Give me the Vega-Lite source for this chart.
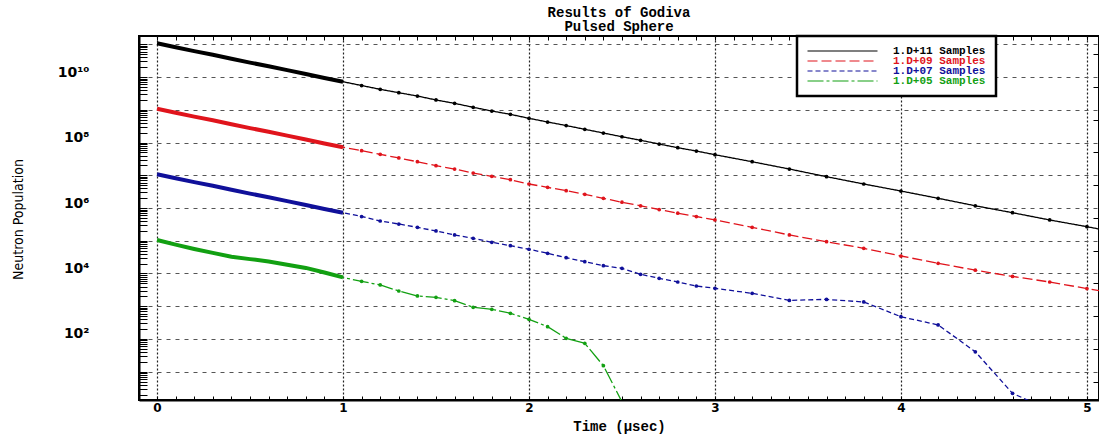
{
  "$schema": "https://vega.github.io/schema/vega-lite/v6.json",
  "width": 960,
  "height": 364,
  "autosize": "none",
  "padding": {"left": 139, "top": 36, "right": 0, "bottom": 36},
  "background": "white",
  "config": {"view": {"stroke": "black", "strokeWidth": 2}},
  "title": {
    "text": ["Results of Godiva", "Pulsed Sphere"],
    "font": "Liberation Mono",
    "fontWeight": "bold",
    "fontSize": 14,
    "lineHeight": 14,
    "anchor": "middle",
    "offset": -2,
    "color": "black"
  },
  "data": {
    "values": [
      {"series": "1.D+11 Samples", "t": 0, "n": 1.07e11},
      {"series": "1.D+11 Samples", "t": 0.1, "n": 8.13e10},
      {"series": "1.D+11 Samples", "t": 0.2, "n": 6.17e10},
      {"series": "1.D+11 Samples", "t": 0.3, "n": 4.79e10},
      {"series": "1.D+11 Samples", "t": 0.4, "n": 3.63e10},
      {"series": "1.D+11 Samples", "t": 0.5, "n": 2.75e10},
      {"series": "1.D+11 Samples", "t": 0.6, "n": 2.14e10},
      {"series": "1.D+11 Samples", "t": 0.7, "n": 1.62e10},
      {"series": "1.D+11 Samples", "t": 0.8, "n": 1.23e10},
      {"series": "1.D+11 Samples", "t": 0.9, "n": 9.33e9},
      {"series": "1.D+11 Samples", "t": 1.0, "n": 7.18e9},
      {"series": "1.D+11 Samples", "t": 1.1, "n": 5.50e9},
      {"series": "1.D+11 Samples", "t": 1.2, "n": 4.21e9},
      {"series": "1.D+11 Samples", "t": 1.3, "n": 3.32e9},
      {"series": "1.D+11 Samples", "t": 1.4, "n": 2.63e9},
      {"series": "1.D+11 Samples", "t": 1.5, "n": 1.99e9},
      {"series": "1.D+11 Samples", "t": 1.6, "n": 1.57e9},
      {"series": "1.D+11 Samples", "t": 1.7, "n": 1.19e9},
      {"series": "1.D+11 Samples", "t": 1.8, "n": 9.16e8},
      {"series": "1.D+11 Samples", "t": 1.9, "n": 7.26e8},
      {"series": "1.D+11 Samples", "t": 2.0, "n": 5.48e8},
      {"series": "1.D+11 Samples", "t": 2.1, "n": 4.23e8},
      {"series": "1.D+11 Samples", "t": 2.2, "n": 3.30e8},
      {"series": "1.D+11 Samples", "t": 2.3, "n": 2.53e8},
      {"series": "1.D+11 Samples", "t": 2.4, "n": 1.95e8},
      {"series": "1.D+11 Samples", "t": 2.5, "n": 1.50e8},
      {"series": "1.D+11 Samples", "t": 2.6, "n": 1.17e8},
      {"series": "1.D+11 Samples", "t": 2.7, "n": 9.00e7},
      {"series": "1.D+11 Samples", "t": 2.8, "n": 6.93e7},
      {"series": "1.D+11 Samples", "t": 2.9, "n": 5.50e7},
      {"series": "1.D+11 Samples", "t": 3.0, "n": 4.24e7},
      {"series": "1.D+11 Samples", "t": 3.2, "n": 2.59e7},
      {"series": "1.D+11 Samples", "t": 3.4, "n": 1.55e7},
      {"series": "1.D+11 Samples", "t": 3.6, "n": 9.04e6},
      {"series": "1.D+11 Samples", "t": 3.8, "n": 5.41e6},
      {"series": "1.D+11 Samples", "t": 4.0, "n": 3.30e6},
      {"series": "1.D+11 Samples", "t": 4.2, "n": 1.98e6},
      {"series": "1.D+11 Samples", "t": 4.4, "n": 1.17e6},
      {"series": "1.D+11 Samples", "t": 4.6, "n": 7.19e5},
      {"series": "1.D+11 Samples", "t": 4.8, "n": 4.31e5},
      {"series": "1.D+11 Samples", "t": 5.0, "n": 2.69e5},
      {"series": "1.D+11 Samples", "t": 5.2, "n": 1.62e5},

      {"series": "1.D+09 Samples", "t": 0, "n": 1.07e9},
      {"series": "1.D+09 Samples", "t": 0.1, "n": 8.13e8},
      {"series": "1.D+09 Samples", "t": 0.2, "n": 6.17e8},
      {"series": "1.D+09 Samples", "t": 0.3, "n": 4.79e8},
      {"series": "1.D+09 Samples", "t": 0.4, "n": 3.63e8},
      {"series": "1.D+09 Samples", "t": 0.5, "n": 2.75e8},
      {"series": "1.D+09 Samples", "t": 0.6, "n": 2.14e8},
      {"series": "1.D+09 Samples", "t": 0.7, "n": 1.62e8},
      {"series": "1.D+09 Samples", "t": 0.8, "n": 1.23e8},
      {"series": "1.D+09 Samples", "t": 0.9, "n": 9.33e7},
      {"series": "1.D+09 Samples", "t": 1.0, "n": 7.18e7},
      {"series": "1.D+09 Samples", "t": 1.1, "n": 5.62e7},
      {"series": "1.D+09 Samples", "t": 1.2, "n": 4.37e7},
      {"series": "1.D+09 Samples", "t": 1.3, "n": 3.37e7},
      {"series": "1.D+09 Samples", "t": 1.4, "n": 2.59e7},
      {"series": "1.D+09 Samples", "t": 1.5, "n": 1.96e7},
      {"series": "1.D+09 Samples", "t": 1.6, "n": 1.55e7},
      {"series": "1.D+09 Samples", "t": 1.7, "n": 1.17e7},
      {"series": "1.D+09 Samples", "t": 1.8, "n": 9.27e6},
      {"series": "1.D+09 Samples", "t": 1.9, "n": 7.31e6},
      {"series": "1.D+09 Samples", "t": 2.0, "n": 5.41e6},
      {"series": "1.D+09 Samples", "t": 2.1, "n": 4.27e6},
      {"series": "1.D+09 Samples", "t": 2.2, "n": 3.39e6},
      {"series": "1.D+09 Samples", "t": 2.3, "n": 2.62e6},
      {"series": "1.D+09 Samples", "t": 2.4, "n": 1.98e6},
      {"series": "1.D+09 Samples", "t": 2.5, "n": 1.50e6},
      {"series": "1.D+09 Samples", "t": 2.6, "n": 1.17e6},
      {"series": "1.D+09 Samples", "t": 2.7, "n": 9.00e5},
      {"series": "1.D+09 Samples", "t": 2.8, "n": 6.93e5},
      {"series": "1.D+09 Samples", "t": 2.9, "n": 5.50e5},
      {"series": "1.D+09 Samples", "t": 3.0, "n": 4.31e5},
      {"series": "1.D+09 Samples", "t": 3.2, "n": 2.58e5},
      {"series": "1.D+09 Samples", "t": 3.4, "n": 1.50e5},
      {"series": "1.D+09 Samples", "t": 3.6, "n": 9.33e4},
      {"series": "1.D+09 Samples", "t": 3.8, "n": 5.89e4},
      {"series": "1.D+09 Samples", "t": 4.0, "n": 3.42e4},
      {"series": "1.D+09 Samples", "t": 4.2, "n": 2.05e4},
      {"series": "1.D+09 Samples", "t": 4.4, "n": 1.26e4},
      {"series": "1.D+09 Samples", "t": 4.6, "n": 8.13e3},
      {"series": "1.D+09 Samples", "t": 4.8, "n": 5.50e3},
      {"series": "1.D+09 Samples", "t": 5.0, "n": 3.47e3},
      {"series": "1.D+09 Samples", "t": 5.2, "n": 2.19e3},

      {"series": "1.D+07 Samples", "t": 0, "n": 1.07e7},
      {"series": "1.D+07 Samples", "t": 0.1, "n": 8.13e6},
      {"series": "1.D+07 Samples", "t": 0.2, "n": 6.17e6},
      {"series": "1.D+07 Samples", "t": 0.3, "n": 4.79e6},
      {"series": "1.D+07 Samples", "t": 0.4, "n": 3.63e6},
      {"series": "1.D+07 Samples", "t": 0.5, "n": 2.75e6},
      {"series": "1.D+07 Samples", "t": 0.6, "n": 2.14e6},
      {"series": "1.D+07 Samples", "t": 0.7, "n": 1.62e6},
      {"series": "1.D+07 Samples", "t": 0.8, "n": 1.23e6},
      {"series": "1.D+07 Samples", "t": 0.9, "n": 9.33e5},
      {"series": "1.D+07 Samples", "t": 1.0, "n": 7.18e5},
      {"series": "1.D+07 Samples", "t": 1.1, "n": 5.50e5},
      {"series": "1.D+07 Samples", "t": 1.2, "n": 4.01e5},
      {"series": "1.D+07 Samples", "t": 1.3, "n": 3.24e5},
      {"series": "1.D+07 Samples", "t": 1.4, "n": 2.57e5},
      {"series": "1.D+07 Samples", "t": 1.5, "n": 1.99e5},
      {"series": "1.D+07 Samples", "t": 1.6, "n": 1.50e5},
      {"series": "1.D+07 Samples", "t": 1.7, "n": 1.19e5},
      {"series": "1.D+07 Samples", "t": 1.8, "n": 8.97e4},
      {"series": "1.D+07 Samples", "t": 1.9, "n": 7.08e4},
      {"series": "1.D+07 Samples", "t": 2.0, "n": 5.50e4},
      {"series": "1.D+07 Samples", "t": 2.1, "n": 4.14e4},
      {"series": "1.D+07 Samples", "t": 2.2, "n": 3.03e4},
      {"series": "1.D+07 Samples", "t": 2.3, "n": 2.29e4},
      {"series": "1.D+07 Samples", "t": 2.4, "n": 1.73e4},
      {"series": "1.D+07 Samples", "t": 2.5, "n": 1.44e4},
      {"series": "1.D+07 Samples", "t": 2.6, "n": 9.44e3},
      {"series": "1.D+07 Samples", "t": 2.7, "n": 7.13e3},
      {"series": "1.D+07 Samples", "t": 2.8, "n": 5.50e3},
      {"series": "1.D+07 Samples", "t": 2.9, "n": 4.15e3},
      {"series": "1.D+07 Samples", "t": 3.0, "n": 3.53e3},
      {"series": "1.D+07 Samples", "t": 3.2, "n": 2.48e3},
      {"series": "1.D+07 Samples", "t": 3.4, "n": 1.51e3},
      {"series": "1.D+07 Samples", "t": 3.6, "n": 1.62e3},
      {"series": "1.D+07 Samples", "t": 3.8, "n": 1.35e3},
      {"series": "1.D+07 Samples", "t": 4.0, "n": 479},
      {"series": "1.D+07 Samples", "t": 4.2, "n": 269},
      {"series": "1.D+07 Samples", "t": 4.4, "n": 40.7},
      {"series": "1.D+07 Samples", "t": 4.6, "n": 2.19},
      {"series": "1.D+07 Samples", "t": 4.8, "n": 0.68},

      {"series": "1.D+05 Samples", "t": 0, "n": 1.05e5},
      {"series": "1.D+05 Samples", "t": 0.1, "n": 7.59e4},
      {"series": "1.D+05 Samples", "t": 0.2, "n": 5.62e4},
      {"series": "1.D+05 Samples", "t": 0.3, "n": 4.27e4},
      {"series": "1.D+05 Samples", "t": 0.4, "n": 3.24e4},
      {"series": "1.D+05 Samples", "t": 0.5, "n": 2.75e4},
      {"series": "1.D+05 Samples", "t": 0.6, "n": 2.34e4},
      {"series": "1.D+05 Samples", "t": 0.7, "n": 1.86e4},
      {"series": "1.D+05 Samples", "t": 0.8, "n": 1.48e4},
      {"series": "1.D+05 Samples", "t": 0.9, "n": 1.07e4},
      {"series": "1.D+05 Samples", "t": 1.0, "n": 7.59e3},
      {"series": "1.D+05 Samples", "t": 1.1, "n": 5.75e3},
      {"series": "1.D+05 Samples", "t": 1.2, "n": 4.46e3},
      {"series": "1.D+05 Samples", "t": 1.3, "n": 2.92e3},
      {"series": "1.D+05 Samples", "t": 1.4, "n": 2.06e3},
      {"series": "1.D+05 Samples", "t": 1.5, "n": 1.87e3},
      {"series": "1.D+05 Samples", "t": 1.6, "n": 1.48e3},
      {"series": "1.D+05 Samples", "t": 1.7, "n": 931},
      {"series": "1.D+05 Samples", "t": 1.8, "n": 807},
      {"series": "1.D+05 Samples", "t": 1.9, "n": 610},
      {"series": "1.D+05 Samples", "t": 2.0, "n": 400},
      {"series": "1.D+05 Samples", "t": 2.1, "n": 238},
      {"series": "1.D+05 Samples", "t": 2.2, "n": 105},
      {"series": "1.D+05 Samples", "t": 2.3, "n": 73.8},
      {"series": "1.D+05 Samples", "t": 2.4, "n": 15.3},
      {"series": "1.D+05 Samples", "t": 2.5, "n": 1.2}
    ]
  },
  "layer": [
    {
      "mark": {"type": "line", "strokeWidth": 1.3, "clip": true},
      "encoding": {
        "x": {
          "field": "t", "type": "quantitative",
          "scale": {"domain": [-0.097, 5.065], "nice": false, "zero": false},
          "axis": {
            "orient": "bottom",
            "values": [0,0.1,0.2,0.3,0.4,0.5,0.6,0.7,0.8,0.9,1,1.1,1.2,1.3,1.4,1.5,1.6,1.7,1.8,1.9,2,2.1,2.2,2.3,2.4,2.5,2.6,2.7,2.8,2.9,3,3.1,3.2,3.3,3.4,3.5,3.6,3.7,3.8,3.9,4,4.1,4.2,4.3,4.4,4.5,4.6,4.7,4.8,4.9,5],
            "labelExpr": "datum.value % 1 == 0 ? format(datum.value, 'd') : ''",
            "labelOverlap": false,
            "labelFlush": false,
            "tickSize": -4,
            "tickColor": "black",
            "domainColor": "black",
            "domainWidth": 2,
            "labelFont": "DejaVu Sans",
            "labelFontWeight": "bold",
            "labelFontSize": 12,
            "labelColor": "black",
            "labelPadding": 6,
            "grid": true,
            "gridOpacity": {"condition": {"test": "datum.value % 1 == 0", "value": 1}, "value": 0},
            "gridDash": [2, 2],
            "gridColor": "#222222",
            "gridWidth": 1.2,
            "title": "Time (μsec)",
            "titleFont": "Liberation Mono",
            "titleFontWeight": "bold",
            "titleFontSize": 14,
            "titleColor": "black",
            "titlePadding": 6
          }
        },
        "y": {
          "field": "n", "type": "quantitative",
          "scale": {"type": "log", "domain": [1.37, 1.79e11], "nice": false},
          "axis": {
            "orient": "left",
            "values": [2,3,4,5,6,7,8,9,1e1,2e1,3e1,4e1,5e1,6e1,7e1,8e1,9e1,1e2,2e2,3e2,4e2,5e2,6e2,7e2,8e2,9e2,1e3,2e3,3e3,4e3,5e3,6e3,7e3,8e3,9e3,1e4,2e4,3e4,4e4,5e4,6e4,7e4,8e4,9e4,1e5,2e5,3e5,4e5,5e5,6e5,7e5,8e5,9e5,1e6,2e6,3e6,4e6,5e6,6e6,7e6,8e6,9e6,1e7,2e7,3e7,4e7,5e7,6e7,7e7,8e7,9e7,1e8,2e8,3e8,4e8,5e8,6e8,7e8,8e8,9e8,1e9,2e9,3e9,4e9,5e9,6e9,7e9,8e9,9e9,1e10,2e10,3e10,4e10,5e10,6e10,7e10,8e10,9e10,1e11],
            "labelExpr": "datum.value == 100 ? '10²' : datum.value == 10000 ? '10⁴' : datum.value == 1000000 ? '10⁶' : datum.value == 100000000 ? '10⁸' : datum.value == 10000000000 ? '10¹⁰' : ''",
            "labelOverlap": false,
            "tickSize": -8,
            "tickColor": "black",
            "domainColor": "black",
            "domainWidth": 2,
            "labelFont": "DejaVu Sans",
            "labelFontWeight": "bold",
            "labelFontSize": 14,
            "labelColor": "black",
            "labelPadding": 58,
            "labelOffset": -5,
            "grid": true,
            "gridOpacity": {"condition": {"test": "abs(log(datum.value)/LN10 - round(log(datum.value)/LN10)) < 0.001", "value": 1}, "value": 0},
            "gridDash": [4, 5],
            "gridColor": "#555555",
            "gridWidth": 1,
            "title": "Neutron Population",
            "titleFont": "Liberation Sans Narrow, DejaVu Sans Condensed, sans-serif",
            "titleFontWeight": "normal",
            "titleFontSize": 14,
            "titleColor": "black",
            "titleAngle": -90,
            "titleX": -121,
            "titleY": 183,
            "titleAlign": "center",
            "titleBaseline": "middle"
          }
        },
        "color": {
          "field": "series", "type": "nominal",
          "scale": {"domain": ["1.D+11 Samples", "1.D+09 Samples", "1.D+07 Samples", "1.D+05 Samples"], "range": ["#000000", "#e0141c", "#10109a", "#12a012"]},
          "legend": {
            "orient": "none",
            "legendX": 658,
            "legendY": 0,
            "title": null,
            "symbolType": "M-8.75,0H8.75",
            "symbolSize": 64,
            "symbolStrokeWidth": 1.2,
            "symbolOffset": 30,
            "labelOffset": 45,
            "labelFont": "Liberation Mono",
            "labelFontWeight": "bold",
            "labelFontSize": 11,
            "labelLimit": 400,
            "padding": 10,
            "rowPadding": -1,
            "clipHeight": 10,
            "strokeColor": "black",
            "fillColor": "white",
            "encode": {
              "legend": {"update": {"strokeWidth": {"value": 2.5}}},
              "labels": {"update": {"fill": {"scale": "color", "field": "value"}}}
            }
          }
        },
        "strokeDash": {
          "field": "series", "type": "nominal",
          "scale": {"domain": ["1.D+11 Samples", "1.D+09 Samples", "1.D+07 Samples", "1.D+05 Samples"], "range": [[1, 0], [10, 4], [5, 3], [16, 3, 3, 3]]},
          "legend": {
            "orient": "none",
            "legendX": 658,
            "legendY": 0,
            "title": null,
            "symbolType": "M-8.75,0H8.75",
            "symbolSize": 64,
            "symbolStrokeWidth": 1.2,
            "symbolOffset": 30,
            "labelOffset": 45,
            "labelFont": "Liberation Mono",
            "labelFontWeight": "bold",
            "labelFontSize": 11,
            "labelLimit": 400,
            "padding": 10,
            "rowPadding": -1,
            "clipHeight": 10,
            "strokeColor": "black",
            "fillColor": "white"
          }
        }
      }
    },
    {
      "transform": [{"filter": "datum.t <= 1.0001"}],
      "mark": {"type": "line", "strokeWidth": 4, "clip": true},
      "encoding": {
        "x": {
          "field": "t", "type": "quantitative",
          "scale": {"domain": [-0.097, 5.065], "nice": false, "zero": false},
          "axis": {
            "orient": "top",
            "values": [0,0.1,0.2,0.3,0.4,0.5,0.6,0.7,0.8,0.9,1,1.1,1.2,1.3,1.4,1.5,1.6,1.7,1.8,1.9,2,2.1,2.2,2.3,2.4,2.5,2.6,2.7,2.8,2.9,3,3.1,3.2,3.3,3.4,3.5,3.6,3.7,3.8,3.9,4,4.1,4.2,4.3,4.4,4.5,4.6,4.7,4.8,4.9,5],
            "labels": false,
            "tickSize": -4,
            "tickColor": "black",
            "domain": false,
            "grid": false,
            "title": null
          }
        },
        "y": {
          "field": "n", "type": "quantitative",
          "scale": {"type": "log", "domain": [1.37, 1.79e11], "nice": false},
          "axis": {
            "orient": "right",
            "values": [5,5e1,5e2,5e3,5e4,5e5,5e6,5e7,5e8,5e9,5e10],
            "labels": false,
            "tickSize": -6,
            "tickColor": "black",
            "domain": false,
            "grid": false,
            "title": null
          }
        },
        "color": {"field": "series", "type": "nominal", "scale": {"domain": ["1.D+11 Samples", "1.D+09 Samples", "1.D+07 Samples", "1.D+05 Samples"], "range": ["#000000", "#e0141c", "#10109a", "#12a012"]}, "legend": null}
      }
    },
    {
      "transform": [{"filter": "datum.t > 1.05"}],
      "mark": {"type": "point", "filled": true, "size": 14, "opacity": 1, "clip": true},
      "encoding": {
        "x": {"field": "t", "type": "quantitative", "scale": {"domain": [-0.097, 5.065], "nice": false, "zero": false}, "axis": null},
        "y": {"field": "n", "type": "quantitative", "scale": {"type": "log", "domain": [1.37, 1.79e11], "nice": false}, "axis": null},
        "color": {"field": "series", "type": "nominal", "scale": {"domain": ["1.D+11 Samples", "1.D+09 Samples", "1.D+07 Samples", "1.D+05 Samples"], "range": ["#000000", "#e0141c", "#10109a", "#12a012"]}, "legend": null}
      }
    }
  ],
  "resolve": {"axis": {"x": "independent", "y": "independent"}}
}
